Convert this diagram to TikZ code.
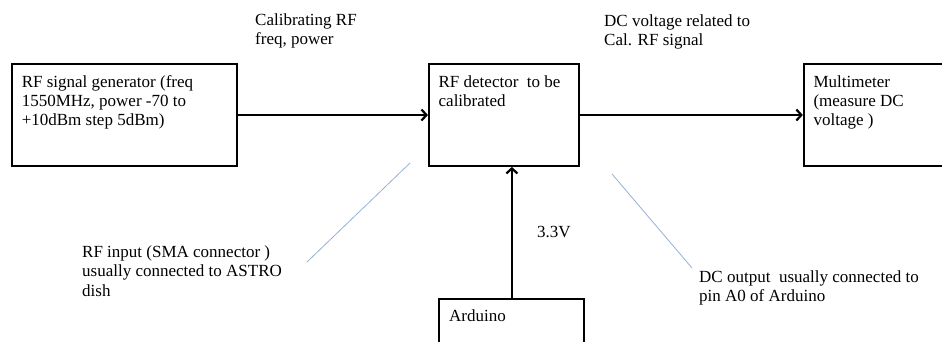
\documentclass[tikz,border=0pt]{standalone}
\usepackage{fontspec}
\setmainfont{Liberation Serif}
\usetikzlibrary{positioning}
\usetikzlibrary{arrows.meta}
\definecolor{calloutblue}{RGB}{150,176,214}
\tikzset{x=1pt, y=-1pt,
    box/.style={
        draw,
        line width=1.9pt,
        inner sep=0pt,
        minimum height=102pt},
    boxtext/.style={
        anchor=north west,
        inner sep=0pt,
        xshift=10.5pt, yshift=-12pt,
        align=left,
        font=\fontsize{17}{19}\selectfont},
    note/.style={
        anchor=north west,
        inner sep=0pt,
        align=left,
        font=\fontsize{17}{19.5}\selectfont},
    callout/.style={
        draw=calloutblue,
        line width=0.8pt},
    every edge/.style={
        draw,
        line width=2.2pt,
        -{Straight Barb[length=5pt,width=11pt,line width=2.2pt]}}}

\begin{document}
\begin{tikzpicture}
        \path[use as bounding box, clip] (0,0) rectangle (942,341);
        \node[box, minimum width=225pt,
            label={[boxtext]north west:RF signal generator (freq\\1550MHz, power -70 to\\+10dBm step 5dBm)}] (gen) at (124.5,115) {};
        \node[box, minimum width=150pt, right=190pt of gen,
            label={[boxtext]north west:RF detector\ \ to be\\calibrated}] (det) {};
        \node[box, minimum width=150pt, right=223pt of det,
            label={[boxtext]north west:Multimeter\\(measure DC\\voltage )}] (mult) {};
        \node[box, minimum width=145pt, minimum height=50pt, below=131pt of det, xshift=8pt,
            label={[boxtext]north west:Arduino}] (ard) {};
        % signal path
        \draw (gen) edge (det);
        \draw (det) edge (mult);
        \draw (ard.north) edge node[note, anchor=west, xshift=24pt] (supply) {3.3V} (ard.north |- det.south);
        % texts
        \node[note] (calrf) at (255,13) {Calibrating RF\\freq, power};
        \node[note] (dcvolt) at (604,14) {DC voltage related to\\Cal. RF signal};
        \node[note] (rfin) at (82,245) {RF input (SMA connector )\\usually connected to ASTRO\\dish};
        \node[note] (dcout) at (699,270) {DC output\ \ usually connected to\\pin A0 of Arduino};
        % callouts
        \coordinate (rfintail) at (307,262);
        \coordinate (rfinhead) at (410,163);
        \coordinate (dcouthead) at (612,174);
        \coordinate (dcouttail) at (692,268);
        \draw[callout] (rfintail) -- (rfinhead);
        \draw[callout] (dcouttail) -- (dcouthead);
    \end{tikzpicture}
\end{document}
